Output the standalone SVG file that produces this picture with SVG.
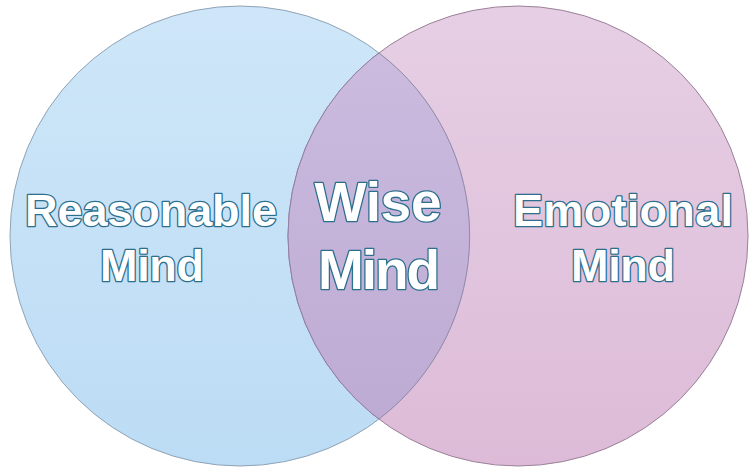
<svg xmlns="http://www.w3.org/2000/svg" width="754" height="468" viewBox="0 0 754 468">
  <defs>
    <linearGradient id="gBlue" x1="0" y1="0" x2="0" y2="1">
      <stop offset="0" stop-color="#cee6f8"/>
      <stop offset="1" stop-color="#bcdcf5"/>
    </linearGradient>
    <linearGradient id="gPink" x1="0" y1="0" x2="0" y2="1">
      <stop offset="0" stop-color="#e6cfe4"/>
      <stop offset="1" stop-color="#ddbbd8"/>
    </linearGradient>
    <linearGradient id="gMix" x1="0" y1="0" x2="0" y2="1">
      <stop offset="0" stop-color="#cdbde0"/>
      <stop offset="1" stop-color="#bca9d2"/>
    </linearGradient>
    <clipPath id="clipLeft">
      <circle cx="240" cy="236" r="230"/>
    </clipPath>
  </defs>
  <style>
    .lbl { font-family: "Liberation Sans", Arial, sans-serif; font-weight: 700; fill: #ffffff; stroke: #2b6e8e; stroke-width: 2.6; paint-order: stroke; stroke-linejoin: round; text-anchor: middle; }
    .big { font-size: 55px; }
    .mid { font-size: 45px; }
  </style>
  <g id="reasonable-mind">
    <circle cx="240" cy="236" r="230" fill="url(#gBlue)" stroke="#8fa3b5" stroke-width="1"/>
  </g>
  <g id="emotional-mind">
    <circle cx="518" cy="236" r="230" fill="url(#gPink)" stroke="#9a8098" stroke-width="1"/>
  </g>
  <g id="wise-mind">
    <circle cx="518" cy="236" r="230" fill="url(#gMix)" stroke="#8f7fa0" stroke-width="1" clip-path="url(#clipLeft)"/>
    <path d="M 379 53 A 230 230 0 0 1 379 419" fill="none" stroke="#8f8aa8" stroke-width="1"/>
  </g>
  <g id="labels">
    <text class="lbl mid" x="151" y="226" textLength="252" lengthAdjust="spacing">Reasonable</text>
    <text class="lbl mid" x="152" y="281" textLength="104" lengthAdjust="spacing">Mind</text>
    <text class="lbl big" x="378" y="221" textLength="127" lengthAdjust="spacing">Wise</text>
    <text class="lbl big" x="379" y="289" textLength="122" lengthAdjust="spacing">Mind</text>
    <text class="lbl mid" x="623" y="226" textLength="220" lengthAdjust="spacing">Emotional</text>
    <text class="lbl mid" x="623" y="281" textLength="104" lengthAdjust="spacing">Mind</text>
  </g>
</svg>
